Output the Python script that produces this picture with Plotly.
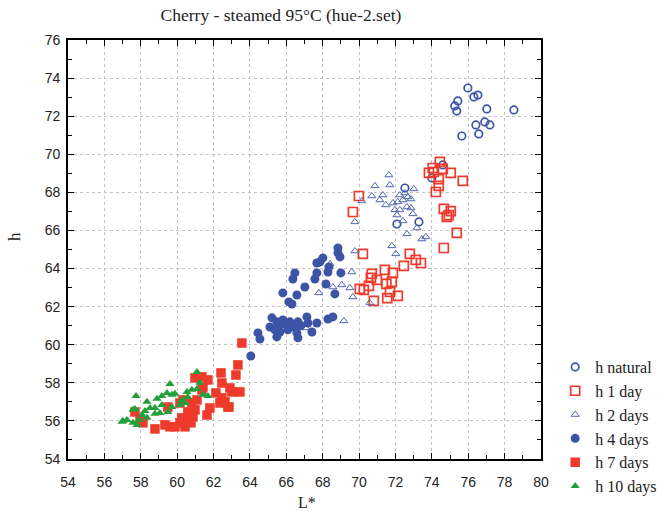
import plotly.graph_objects as go

# ---- data (L*, h) ----
nat_L = [75.98, 76.31, 76.53, 75.43, 75.26, 75.37, 77.02, 78.51, 76.42, 76.91, 77.19, 76.58, 75.65,
         72.52, 74.00, 74.60, 72.08, 73.29]
nat_h = [73.48, 73.01, 73.11, 72.80, 72.54, 72.27, 72.38, 72.33, 71.54, 71.70, 71.54, 71.07, 70.96,
         68.23, 68.76, 69.44, 66.34, 66.45]

d1_L = [74.44, 74.05, 73.84, 74.11, 74.60, 75.04, 74.38, 74.38, 74.22, 75.70, 74.66, 75.04, 74.82, 74.93,
        75.37, 74.66, 72.79, 73.12, 73.40, 72.46, 71.86, 71.80, 72.13, 71.70,
        69.99, 69.66, 70.21, 70.70, 70.65, 70.04, 70.26, 70.54, 70.81, 70.98, 71.42, 71.50, 71.55]
d1_h = [69.60, 69.28, 69.02, 69.07, 69.23, 69.02, 68.70, 68.34, 68.02, 68.60, 67.13, 67.02, 66.71, 66.81,
        65.87, 65.08, 64.77, 64.45, 64.29, 64.14, 63.77, 63.30, 62.56, 62.77,
        67.81, 66.97, 64.77, 63.72, 63.51, 62.93, 62.88, 63.09, 62.30, 63.40, 63.93, 63.20, 62.45]

d2_L = [71.64, 71.69, 72.24, 72.52, 73.01, 71.86, 72.13, 72.41, 72.68, 72.85, 71.97, 72.24, 72.63, 72.85,
        72.41, 72.63, 71.80, 72.02, 73.18, 73.45, 73.67, 70.87, 70.15, 70.70, 69.77, 71.31, 71.47, 71.14,
        72.96, 72.08,
        69.77, 69.60, 69.05, 68.56, 67.79, 69.49, 69.66, 70.59, 69.16, 68.40, 67.08]
d2_h = [68.91, 68.39, 67.86, 67.97, 68.18, 67.44, 67.50, 67.60, 67.76, 67.65, 67.08, 67.08, 67.23, 67.18,
        66.50, 65.82, 65.19, 64.77, 66.13, 65.55, 65.66, 68.34, 67.55, 67.81, 66.45, 67.86, 67.34, 67.60,
        66.87, 66.81,
        64.92, 63.82, 63.14, 63.03, 62.72, 62.98, 62.51, 62.19, 61.25, 64.24, 60.88]

d4_L = [68.84, 68.84, 68.95, 67.85, 68.01, 67.68, 68.34, 68.29, 69.00, 67.68, 67.57, 66.47, 66.36, 68.18,
        68.67, 67.02, 66.58, 65.81, 66.14, 66.31, 65.21, 65.10, 65.48, 65.81, 66.03, 65.37, 65.65, 65.48,
        66.09, 66.47, 66.64, 67.13, 67.19, 66.64, 66.58, 67.68, 67.41, 68.29, 68.56, 64.44, 64.55, 64.05,
        65.90, 66.20, 65.60, 66.80]
d4_h = [65.08, 64.82, 64.61, 64.35, 64.56, 64.29, 64.08, 63.82, 63.77, 63.77, 63.45, 63.77, 63.45, 63.19,
        62.67, 63.03, 62.61, 62.72, 62.25, 62.14, 61.41, 60.93, 61.20, 61.30, 61.04, 60.78, 60.67, 60.41,
        60.78, 60.93, 61.20, 61.46, 61.14, 60.36, 60.62, 61.14, 60.67, 61.35, 61.46, 60.62, 60.30, 59.41,
        61.10, 61.20, 60.90, 61.00]

d7_L = [63.56, 63.34, 62.41, 63.23, 60.98, 61.36, 61.69, 62.46, 62.90, 63.45, 63.01, 62.13, 62.46, 62.63,
        62.85, 61.80, 61.64, 61.36, 61.09, 60.81, 60.98, 60.59, 60.87, 60.54, 60.26, 60.15, 59.88, 59.60,
        59.33, 60.76, 60.43, 58.78, 58.12, 57.96, 57.68, 59.49, 60.32, 60.15, 61.42, 62.79, 62.35]
d7_h = [60.09, 58.94, 58.52, 58.41, 58.26, 58.31, 58.15, 57.99, 57.73, 57.52, 57.52, 57.47, 57.21, 57.00,
        56.73, 56.68, 56.31, 57.63, 57.10, 56.94, 56.58, 56.47, 56.21, 56.05, 56.16, 55.90, 55.69, 55.69,
        55.79, 55.90, 55.69, 55.58, 55.90, 56.11, 56.47, 56.73, 57.10, 56.94, 57.78, 56.73, 56.94]

d10_L = [61.09, 61.25, 59.60, 57.74, 58.34, 58.89, 59.16, 59.44, 59.71, 59.88, 60.54, 60.81, 61.09, 60.59,
         60.26, 61.42, 61.69, 60.43, 60.15, 59.16, 58.78, 58.51, 58.23, 59.71, 59.49, 59.05, 58.78, 57.57,
         58.07, 58.34, 57.90, 57.57, 57.24, 56.97, 57.79, 57.02, 57.68]
d10_h = [58.57, 58.00, 57.94, 57.31, 57.00, 57.16, 57.31, 57.47, 57.37, 57.42, 57.52, 57.63, 57.68, 57.26,
         57.10, 57.37, 57.31, 56.94, 56.84, 56.84, 56.68, 56.68, 56.52, 56.73, 56.47, 56.42, 56.37, 56.58,
         56.31, 56.16, 56.05, 55.90, 56.05, 55.95, 55.79, 56.00, 56.63]

names = ["h natural", "h 1 day", "h 2 days", "h 4 days", "h 7 days", "h 10 days"]

BLUE = "#3b54a5"
RED = "#ee3a2a"
LBLUE = "#5066b0"
GREEN = "#1fa03a"
SERIF = "Liberation Serif, Times New Roman"

fig = go.Figure()
series = [
    (nat_L, nat_h, "circle-open", BLUE, 7.5, 1.7),
    (d1_L, d1_h, "square-open", RED, 9, 1.7),
    (d2_L, d2_h, "triangle-up-open", LBLUE, 7, 1.0),
    (d4_L, d4_h, "circle", BLUE, 9, 0),
    (d7_L, d7_h, "square", RED, 9.5, 0),
    (d10_L, d10_h, "triangle-up", GREEN, 8, 0),
]
for (xs, ys, sym, col, sz, lw), nm in zip(series, names):
    fig.add_trace(go.Scatter(
        x=xs, y=ys, mode="markers", name=nm,
        marker=dict(symbol=sym, color=col, size=sz, line=dict(color=col, width=lw)),
    ))

axis_common = dict(
    showline=True, linecolor="black", linewidth=1.6, mirror="ticks",
    ticks="inside", ticklen=6, tickcolor="black", tickwidth=1,
    showgrid=True, gridcolor="#c4c4c4", griddash="dot", gridwidth=1,
    zeroline=False, dtick=2, automargin=False,
    tickfont=dict(family="Liberation Sans, Arial", size=14, color="#222"),
    minor=dict(ticks="inside", ticklen=4, dtick=1, tickcolor="black", showgrid=False),
)

fig.update_layout(
    width=669, height=514,
    margin=dict(l=68, r=128, t=40, b=55, autoexpand=False),
    paper_bgcolor="white", plot_bgcolor="white",
    title=dict(text="Cherry - steamed 95°C (hue-2.set)", x=0.42, xref="container", xanchor="center",
               y=1 - 15 / 514, yref="container", yanchor="middle",
               font=dict(family=SERIF, size=17.5, color="#222")),
    xaxis=dict(range=[54, 80], ticklabelstandoff=9, **axis_common),
    yaxis=dict(range=[54, 76], ticklabelstandoff=3, **axis_common),
    annotations=[
        dict(text="L*", xref="paper", yref="paper", x=0.505, y=-0.105, xanchor="center", yanchor="middle",
             showarrow=False, font=dict(family=SERIF, size=16, color="#222")),
        dict(text="h", xref="paper", yref="paper", x=-0.112, y=0.53, xanchor="center", yanchor="middle",
             textangle=-90, showarrow=False, font=dict(family=SERIF, size=17, color="#222")),
    ],
    legend=dict(x=1.03, y=0.26, xanchor="left", yanchor="top",
                font=dict(family=SERIF, size=16, color="#222"),
                bgcolor="rgba(0,0,0,0)", itemwidth=30),
    showlegend=True,
)

fig.write_html("out.html")
